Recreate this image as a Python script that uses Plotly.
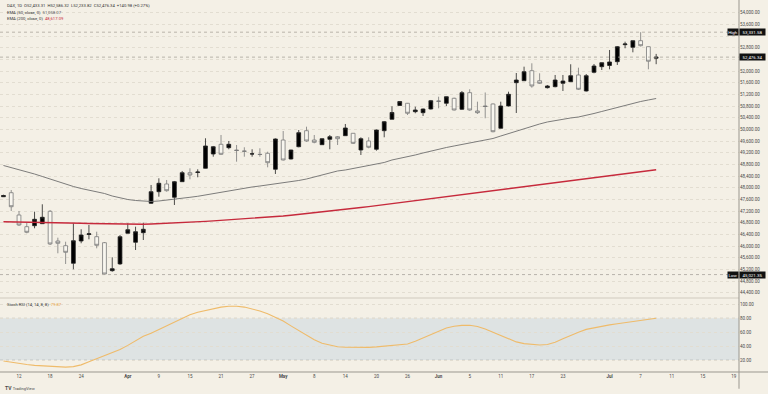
import plotly.graph_objects as go

# ---------------- data (daily bars, index 0 = Mar 12) ----------------
bar_index = list(range(-2, 83))

opens = [47690, 47828, 47064, 46663, 46697, 46766, 47191, 46172, 46011, 45408,
         46172, 46395, 46320, 46114, 45154, 45387, 46437, 46128, 46457, 47465,
         47863, 48127, 47671, 48206, 48514, 48521, 48665, 49155, 49488, 49371,
         49292, 49258, 49155, 49145, 49179, 48631, 49635, 48984, 49405, 49954,
         49635, 49474, 49659, 49748, 49783, 49865, 49292, 49601, 49317, 49954,
         50345, 50818, 50894, 50606, 50571, 50698, 50972, 50894, 51065, 50688,
         51258, 50630, 50801, 50870, 50037, 50801, 51600, 51668, 52011, 51668,
         51429, 51463, 51579, 51634, 51864, 51315, 51956, 52149, 52190, 52320,
         52903, 52814, 53040, 52834, 52440]
highs = [47760, 47921, 47201, 46800, 47177, 47431, 47235, 46286, 46148, 46779,
         46574, 46721, 46491, 46138, 45613, 46378, 46779, 46663, 46800, 48093,
         48322, 48264, 48230, 48573, 48665, 48631, 49694, 49430, 49807, 49601,
         49464, 49385, 49317, 49351, 49234, 49690, 49944, 49300, 49978, 50091,
         49807, 49690, 49807, 49772, 50184, 49875, 49728, 49728, 49995, 50287,
         50790, 50962, 50904, 50777, 50715, 51007, 51120, 51127, 51086, 51315,
         51374, 50949, 51264, 50887, 50949, 51291, 51932, 52149, 52265, 51922,
         51521, 51864, 51864, 52231, 52114, 51898, 52241, 52293, 52721, 52858,
         53006, 53047, 53331.58, 52841, 52586.32]
lows = [47680, 47201, 46687, 46437, 46608, 46756, 46035, 45751, 45384, 45202,
        46094, 46231, 45922, 45021.35, 45120, 45353, 46430, 45864, 46207, 47441,
        47691, 47863, 47407, 48196, 48288, 48357, 48658, 49063, 49121, 49317,
        48891, 49063, 49063, 49063, 48699, 48470, 48932, 48967, 49385, 49577,
        49522, 49464, 49317, 49464, 49772, 49498, 49121, 49351, 49269, 49728,
        50338, 50801, 50492, 50551, 50458, 50681, 50722, 50801, 50647, 50664,
        50640, 50527, 50380, 49899, 50030, 50784, 50561, 51658, 51429, 51555,
        51401, 51442, 51315, 51624, 51350, 51298, 51922, 52035, 52059, 52207,
        52780, 52642, 52841, 52059, 52233.82]
closes = [47730, 47348, 46721, 46471, 46916, 46985, 46070, 46094, 45785, 46183,
          46378, 46419, 46025, 45041, 45223, 46320, 46560, 46491, 46574, 47863,
          48151, 47897, 48206, 48514, 48435, 48538, 49430, 49405, 49145, 49488,
          49275, 49248, 49160, 49138, 48857, 49670, 48950, 49292, 49886, 49601,
          49556, 49680, 49748, 49680, 50047, 49522, 49680, 49385, 49978, 50263,
          50578, 50955, 50551, 50664, 50698, 50983, 50962, 51120, 50664, 51258,
          50664, 50571, 50784, 49920, 50801, 51202, 51692, 51977, 51487, 51579,
          51487, 51692, 51658, 51840, 51374, 51840, 52172, 52286, 52310, 52834,
          52927, 53040, 52869, 52335.36, 52476.34]

ema50 = [48761, 48692, 48624, 48555, 48469, 48384, 48298, 48195, 48110, 48041,
         47972, 47921, 47869, 47801, 47715, 47647, 47595, 47561, 47534, 47527,
         47544, 47571, 47602, 47637, 47671, 47705, 47750, 47801, 47853, 47904,
         47955, 47990, 48024, 48058, 48093, 48127, 48161, 48195, 48247, 48298,
         48367, 48435, 48504, 48573, 48607, 48658, 48692, 48744, 48796, 48864,
         48950, 49001, 49053, 49121, 49190, 49258, 49327, 49378, 49430, 49481,
         49533, 49584, 49635, 49687, 49772, 49858, 49944, 50030, 50115, 50184,
         50253, 50304, 50355, 50390, 50424, 50476, 50544, 50613, 50681, 50750,
         50835, 50904, 50955, 51007, 51058]

ema200 = [46834, 46831, 46827, 46824, 46820, 46813, 46806, 46799, 46793, 46786,
          46779, 46772, 46765, 46759, 46752, 46748, 46745, 46745, 46748, 46755,
          46765, 46776, 46789, 46803, 46817, 46831, 46844, 46861, 46878, 46895,
          46913, 46930, 46947, 46964, 46985, 47005, 47029, 47057, 47084, 47112,
          47139, 47166, 47197, 47228, 47259, 47290, 47321, 47352, 47386, 47420,
          47454, 47485, 47519, 47554, 47588, 47622, 47657, 47691, 47725, 47759,
          47794, 47828, 47862, 47897, 47931, 47965, 48000, 48034, 48068, 48102,
          48137, 48171, 48205, 48240, 48274, 48308, 48342, 48377, 48411, 48445,
          48480, 48514, 48548, 48582, 48617]

stoch_rsi = [18.5, 16.5, 15, 13.5, 12.3, 11.4, 10.7, 10.2, 9.8, 10.5,
             13, 17.5, 22, 26, 30, 35, 41, 48, 54, 58.5,
             64, 69, 75, 80.5, 85, 88.5, 91, 93.5, 96, 97.3,
             97.3, 96, 93.5, 90.5, 86.5, 81.5, 76, 69, 62, 55,
             49, 44, 41, 39, 38.3, 38, 38, 38.2, 38.8, 40,
             40.8, 41.5, 43, 47, 52, 57, 62, 66, 68.5, 69.8,
             70, 68, 64.5, 60, 55, 50, 46, 43.5, 42, 41.5,
             42.3, 45.5, 50.5, 55.5, 60, 64, 66.5, 68.8, 70.5, 72,
             73.5, 74.8, 76.5, 78.3, 79.9]

tick_bars = [0, 4, 8, 14, 18, 22, 26, 30, 34, 38, 42, 46, 50, 54, 58, 62, 66, 70,
             76, 80, 84, 88, 92]
tick_labels = ["12", "18", "24", "<b>Apr</b>", "9", "15", "21", "27", "<b>May</b>",
               "8", "14", "20", "26", "<b>Jun</b>", "5", "11", "17", "23",
               "<b>Jul</b>", "7", "11", "15", "19"]

price_ticks = list(range(44400, 54001, 400))
stoch_ticks = [20, 40, 60, 80, 100]

high_value = 53331.58
low_value = 45021.35
last_value = 52476.34

# ---------------- styling ----------------
BG = "#f4f0e6"
FONT = "Roboto"
TXT = "#4a4a4a"
GRID = "#e2ddd1"
split = 1 - 298 / 372  # pane separator in paper coords

# tick labels hidden behind the price boxes (as in the reference)
covered = {52400, 53200}
price_tick_text = ["" if v in covered else f"{v:,.2f}" for v in price_ticks]

fig = go.Figure()

fig.add_trace(go.Scatter(x=bar_index, y=ema200, mode="lines",
                         line=dict(color="#c62a3c", width=1.4), hoverinfo="skip",
                         yaxis="y"))
fig.add_trace(go.Scatter(x=bar_index, y=ema50, mode="lines",
                         line=dict(color="#6e6e6e", width=0.9), hoverinfo="skip",
                         yaxis="y"))
fig.add_trace(go.Candlestick(
    x=bar_index, open=opens, high=highs, low=lows, close=closes,
    increasing=dict(line=dict(color="#222222", width=0.8), fillcolor="#000000"),
    decreasing=dict(line=dict(color="#7a7a7a", width=0.8), fillcolor="#f8f6ef"),
    yaxis="y", showlegend=False))
fig.add_trace(go.Scatter(x=bar_index, y=stoch_rsi, mode="lines",
                         line=dict(color="#efbb6a", width=1.1), hoverinfo="skip",
                         yaxis="y2"))

shapes = []
shapes.append(dict(type="rect", xref="paper", yref="y2", x0=0, x1=1, y0=20, y1=80,
                   fillcolor="#dee3e3", line=dict(width=0), layer="below"))
for lvl in (20, 80):
    shapes.append(dict(type="line", xref="paper", yref="y2", x0=0, x1=1, y0=lvl, y1=lvl,
                       line=dict(color="#b9bcbc", width=0.8, dash="dot"), layer="below"))
for v in (high_value, last_value, low_value):
    shapes.append(dict(type="line", xref="paper", yref="y", x0=0, x1=1, y0=v, y1=v,
                       line=dict(color="#a9a59c", width=0.8, dash="dot")))
shapes.append(dict(type="line", xref="paper", yref="paper", x0=0, x1=1, y0=split, y1=split,
                   line=dict(color="#cfcabe", width=1.2)))
shapes.append(dict(type="line", xref="paper", yref="paper", x0=0, x1=1.04, y0=0, y1=0,
                   line=dict(color="#9a978f", width=1)))
shapes.append(dict(type="line", xref="paper", yref="paper", x0=1, x1=1, y0=-0.045, y1=1,
                   line=dict(color="#9a978f", width=1)))

W_PLOT = 739.0

def px(xp):
    return xp / W_PLOT

ann = []
leg_font = dict(family=FONT, size=4.2, color="#333333")
ann.append(dict(xref="paper", yref="paper", x=px(5), y=1 - 5.3 / 372, xanchor="left",
                yanchor="middle", showarrow=False, font=leg_font,
                text="DAX, 1D  O52,433.31  H52,586.32  L52,233.82  C52,476.34  +140.98 (+0.27%)"))
ann.append(dict(xref="paper", yref="paper", x=px(5), y=1 - 12.3 / 372, xanchor="left",
                yanchor="middle", showarrow=False, font=leg_font,
                text="EMA (50, close, 0)  <span style='color:#555555'>51,058.07</span>"))
ann.append(dict(xref="paper", yref="paper", x=px(5), y=1 - 18.6 / 372, xanchor="left",
                yanchor="middle", showarrow=False, font=leg_font,
                text="EMA (200, close, 0)  <span style='color:#c62a3c'>48,617.09</span>"))
ann.append(dict(xref="paper", yref="paper", x=px(5), y=1 - 304 / 372, xanchor="left",
                yanchor="middle", showarrow=False, font=leg_font,
                text="Stoch RSI (14, 14, 8, 8)  <span style='color:#e8a33c'>79.87</span>"))

box_font = dict(family=FONT, size=4.4, color="#ffffff")

def price_box(v, label=None):
    ann.append(dict(xref="paper", yref="y", x=px(752), y=v, xanchor="center", yanchor="middle",
                    showarrow=False, text=f"{v:,.2f}", font=box_font, bgcolor="#111111",
                    width=25, height=6, borderpad=0))
    if label:
        ann.append(dict(xref="paper", yref="y", x=px(732.7), y=v, xanchor="center",
                        yanchor="middle", showarrow=False, text=label, font=box_font,
                        bgcolor="#111111", width=10, height=6, borderpad=0))

price_box(high_value, "High")
price_box(last_value)
price_box(low_value, "Low")

ann.append(dict(xref="paper", yref="paper", x=px(3), y=-(388 - 372) / 372, xanchor="left",
                yanchor="middle", showarrow=False,
                text="<b>TV</b> <span style='font-size:4px'>TradingView</span>",
                font=dict(family=FONT, size=5, color="#4a4a4a")))

fig.update_layout(
    width=768, height=394,
    margin=dict(l=0, r=29, t=0, b=22),
    paper_bgcolor=BG, plot_bgcolor=BG,
    showlegend=False,
    font=dict(family=FONT, size=4.5, color=TXT),
    xaxis=dict(domain=[0, 1], anchor="y2", range=[-2.445, 92.66],
               tickmode="array", tickvals=tick_bars, ticktext=tick_labels,
               showgrid=False, zeroline=False, ticks="", showline=False,
               rangeslider=dict(visible=False),
               tickfont=dict(family=FONT, size=4.5, color=TXT)),
    yaxis=dict(domain=[split, 1], anchor="x", side="right", range=[44218, 54435],
               tickmode="array", tickvals=price_ticks, ticktext=price_tick_text,
               showgrid=True, gridcolor=GRID, griddash="dot", gridwidth=0.8,
               zeroline=False, ticks="", showline=False,
               tickfont=dict(family=FONT, size=4.5, color=TXT)),
    yaxis2=dict(domain=[0, split], anchor="x", side="right", range=[2.76, 109.05],
                tickmode="array", tickvals=stoch_ticks,
                ticktext=[f"{v:.2f}" for v in stoch_ticks], showgrid=True,
                gridcolor=GRID, griddash="dot", gridwidth=0.8, zeroline=False,
                ticks="", showline=False, tickfont=dict(family=FONT, size=4.5, color=TXT)),
    shapes=shapes,
    annotations=ann,
)

fig.write_html("out.html")
